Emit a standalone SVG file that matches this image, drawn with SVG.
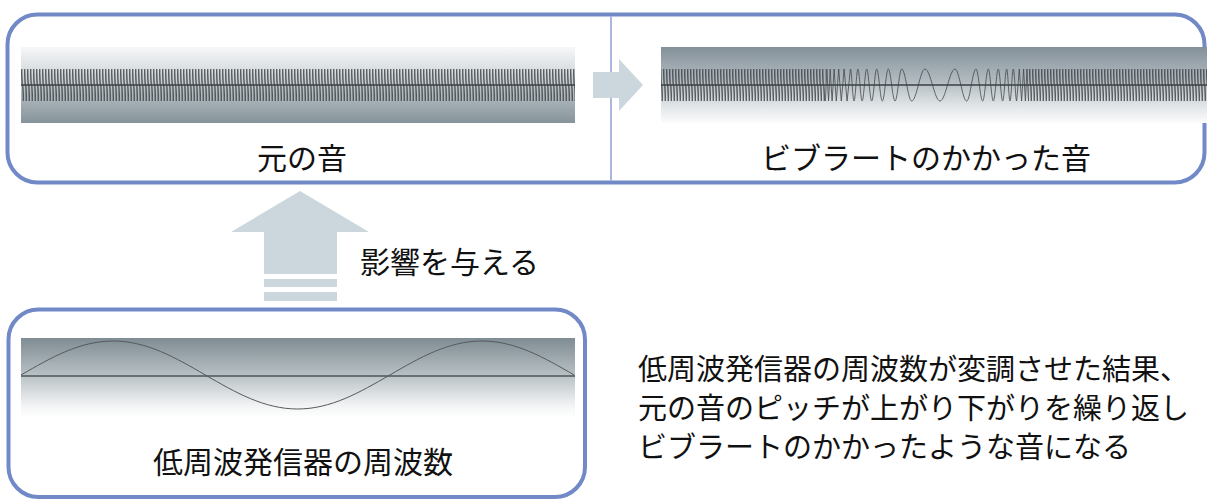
<svg xmlns="http://www.w3.org/2000/svg" width="1207" height="500" viewBox="0 0 1207 500">
<defs>
<style>
.box{fill:#fff;stroke:#7189c7;stroke-width:4}
.axis{stroke:#3a3f42;stroke-width:1.3}
.hfw{fill:none;stroke:#45494c;stroke-width:0.8}
.lfw{fill:none;stroke:#555a5d;stroke-width:1}
.arrow{fill:#cbd6dd}
.lbl{font-family:"Noto Sans CJK JP","Noto Sans",sans-serif;font-size:30px;fill:#111}
.desc{font-family:"Noto Sans CJK JP","Noto Sans",sans-serif;font-size:29px;fill:#111}
</style>
<linearGradient id="gLeft" x1="0" y1="0" x2="0" y2="1">
<stop offset="0" stop-color="#f6f7f8"/>
<stop offset="0.3" stop-color="#d9dee1"/>
<stop offset="0.65" stop-color="#adb7bc"/>
<stop offset="1" stop-color="#86939a"/>
</linearGradient>
<linearGradient id="gRight" x1="0" y1="0" x2="0" y2="1">
<stop offset="0" stop-color="#84919a"/>
<stop offset="0.45" stop-color="#b2bbc0"/>
<stop offset="0.8" stop-color="#e4e8ea"/>
<stop offset="1" stop-color="#fbfbfc"/>
</linearGradient>
<linearGradient id="gBottom" x1="0" y1="0" x2="0" y2="1">
<stop offset="0" stop-color="#7f8c93"/>
<stop offset="0.45" stop-color="#b6bfc3"/>
<stop offset="0.85" stop-color="#f3f4f5"/>
<stop offset="1" stop-color="#ffffff"/>
</linearGradient>
<pattern id="hf" patternUnits="userSpaceOnUse" x="0" y="68" width="3" height="34">
<path d="M0,17 L0.75,1 L2.25,33 L3,17" fill="none" stroke="#45494c" stroke-width="0.8"/>
</pattern>
</defs>

<g id="node-original-vibrato-frame">
<rect class="box" x="7.5" y="14.5" width="1197" height="168" rx="30"/>
<line x1="611" y1="16.5" x2="611" y2="180.5" stroke="#8ea0d6" stroke-width="1.5"/>
</g>

<g id="node-original">
<rect x="21" y="47" width="554" height="76" fill="url(#gLeft)"/>
<rect x="21" y="68" width="554" height="34" fill="url(#hf)"/>
<line class="axis" x1="21" y1="85" x2="575" y2="85"/>
<text class="lbl" x="302" y="169" text-anchor="middle">元の音</text>
</g>

<g id="node-vibrato">
<rect x="661" y="47" width="546" height="76" fill="url(#gRight)"/>
<rect x="661" y="68" width="164.4" height="34" fill="url(#hf)"/>
<rect x="1028.5" y="68" width="178.5" height="34" fill="url(#hf)"/>
<path class="hfw" d="M825.4,101 L826.9,69 L828.5,101 L830.2,69 L832.1,101 L834.1,69 L836.3,101 L838.7,69 L841.3,101 L844.1,69 L847.1,101 L850.4,69 C851.71,69 852.69,101 854,101 C855.42,101 856.48,69 857.9,69 C859.43,69 860.57,101 862.1,101 C863.77,101 865.03,69 866.7,69 C868.52,69 869.88,101 871.7,101 C873.52,101 874.88,69 876.7,69 C878.74,69 880.26,101 882.3,101 C884.48,101 886.12,69 888.3,69 C890.74,69 892.56,101 895,101 C897.44,101 899.26,69 901.7,69 C905.34,69 908.06,101 911.7,101 C916.54,101 920.16,69 925,69 C930.46,69 934.54,101 940,101 C945.46,101 949.54,69 955,69 C959.26,69 962.44,101 966.7,101 C970.09,101 972.61,69 976,69 C978.44,69 980.26,101 982.7,101 C984.74,101 986.26,69 988.3,69 C990.12,69 991.48,101 993.3,101 C995.12,101 996.48,69 998.3,69 C999.9,69 1001.1,101 1002.7,101 C1004.16,101 1005.24,69 1006.7,69 C1007.9,69 1008.8,101 1010,101 C1011.2,101 1012.1,69 1013.3,69 C1014.54,69 1015.46,101 1016.7,101 L1019.3,69 L1021.6,101 L1023.6,69 L1025.4,101 L1027,69 L1028.5,101"/>
<line class="axis" x1="661" y1="85" x2="1207" y2="85"/>
<text class="lbl" x="926" y="169" text-anchor="middle">ビブラートのかかった音</text>
</g>

<g id="connectors">
<polygon class="arrow" points="593,72 619,72 619,59 643,85 619,111 619,98 593,98"/>
<polygon class="arrow" points="300,191 369,232 337,232 337,274 264,274 264,232 231,232"/>
<rect class="arrow" x="264" y="279" width="73" height="8"/>
<rect class="arrow" x="264" y="292" width="73" height="9"/>
</g>

<g id="label-influence">
<text class="lbl" x="360" y="273">影響を与える</text>
</g>

<g id="node-lfo">
<rect class="box" x="8.5" y="309.5" width="576.5" height="187.5" rx="30"/>
<rect x="21" y="338" width="554" height="80" fill="url(#gBottom)"/>
<line x1="21" y1="376" x2="575" y2="376" stroke="#4e5457" stroke-width="1.6"/>
<path class="lfw" d="M21,375 C51.07,357.58 79.83,341 113.2,341 C146.57,341 175.33,357.58 205.4,375 C235.47,392.42 264.23,409 297.6,409 C330.97,409 359.73,392.42 389.8,375 C419.87,357.58 448.63,341 482,341 C515.37,341 544.13,357.58 574.2,375"/>
<text class="lbl" x="303" y="473" text-anchor="middle">低周波発信器の周波数</text>
</g>

<g id="description">
<text class="desc" x="638" y="380">低周波発信器の周波数が変調させた結果、</text>
<text class="desc" x="638" y="419">元の音のピッチが上がり下がりを繰り返し</text>
<text class="desc" x="638" y="458">ビブラートのかかったような音になる</text>
</g>
</svg>
